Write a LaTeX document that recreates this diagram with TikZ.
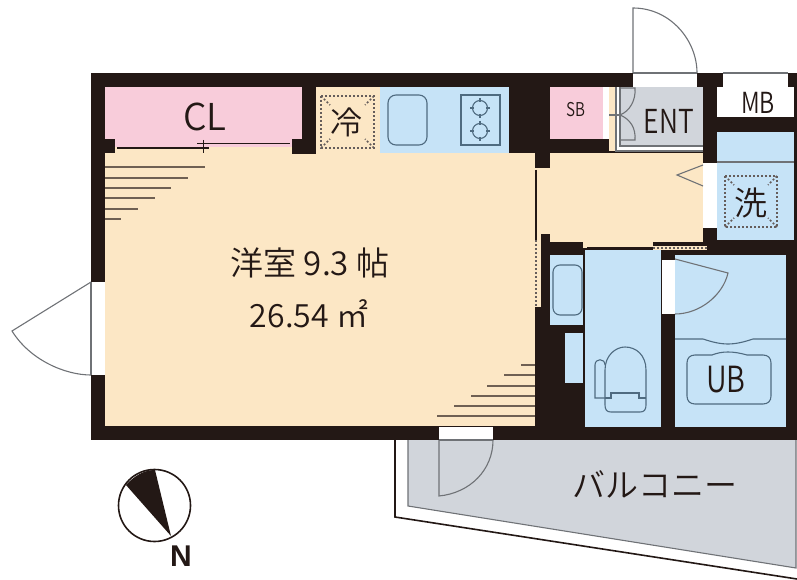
\documentclass[tikz,border=0pt]{standalone}
\usepackage{fontspec}
\setmainfont{Noto Sans CJK JP}[UprightFont={* DemiLight}]
\newfontfamily\narrowfont[FakeStretch=0.8]{Noto Sans CJK JP DemiLight}
\newfontfamily\northfont{Liberation Sans}
\definecolor{wallblack}{HTML}{231815}
\definecolor{roomcream}{HTML}{FCE7C5}
\definecolor{closetpink}{HTML}{F8CCDA}
\definecolor{wetblue}{HTML}{C6E3F7}
\definecolor{floorgrey}{HTML}{D1D5DB}
\definecolor{doorgrey}{HTML}{6F7276}
\definecolor{fixline}{HTML}{4F6B80}
\begin{document}
\begin{tikzpicture}[
x=1pt,y=-1pt,
cream/.style={fill=roomcream},
pink/.style={fill=closetpink},
wet/.style={fill=wetblue},
opening/.style={fill=white},
door/.style={draw=doorgrey,line width=1.1pt},
fixture/.style={draw=fixline,line width=1.1pt},
stairline/.style={draw=wallblack!65!roomcream,line width=1.2pt},
frontline/.style={draw=wallblack,line width=1.6pt},
dots/.style={draw=wallblack!70,line width=1.5pt,dash pattern=on 2pt off 2pt},
label/.style={inner sep=0pt,text=wallblack}
]
\useasboundingbox (0,0) rectangle (797,580);
\fill[wallblack] (91,73) rectangle (797,440);
\fill[floorgrey] (408,440) -- (408,506) -- (796,568) -- (796,440) -- cycle;
\draw[door] (408,440) -- (408,506) -- (796,568) -- (796,440);
\draw[frontline] (395,440) -- (395,517) -- (797,579);
\fill[cream] (105,153) rectangle (535,426);
\fill[cream] (105,147) rectangle (316,153);
\fill[cream] (535,153) rectangle (541,307);
\fill[cream] (541,153) rectangle (703,242);
\fill[cream] (583,242) rectangle (653,248);
\fill[cream] (316,87) rectangle (380,153);
\fill[cream] (609,87) rectangle (620,151);
\fill[pink] (105,87) rectangle (302,147);
\fill[wallblack] (105,139) rectangle (115,153);
\fill[wallblack] (292,139) rectangle (316,154);
\fill[wallblack] (535,153) rectangle (550,168);
\fill[wallblack] (541,234) rectangle (550,242);
\fill[wet] (380,87) rectangle (509,153);
\fill[pink] (550,87) rectangle (603,139);
\fill[opening] (603,87) rectangle (609,139);
\fill[opening] (616,87) rectangle (703,151);
\fill[floorgrey] (620,87) rectangle (703,146);
\draw[door] (616,87) -- (616,151) -- (703,151);
\draw[door] (620,87) -- (620,146) -- (703,146);
\fill[opening] (717,87) rectangle (794,117);
\fill[wet] (717,132) rectangle (794,240);
\draw[door] (717,162) -- (794,162);
\fill[wet] (550,255) rectangle (583,325);
\fill[wet] (565,333) rectangle (583,383);
\fill[wet] (585,250) rectangle (661,427);
\fill[wet] (675,255) rectangle (786,427);
\fill[opening] (662,260) rectangle (675,314);
\fill[opening] (703,163) rectangle (717,228);
\fill[opening] (633,73) rectangle (697,87);
\fill[opening] (723,73) rectangle (788,87);
\fill[opening] (91,282) rectangle (105,375);
\fill[opening] (439,427) rectangle (493,440);
\draw[door] (633,73) -- (697,73);
\draw[door] (723,73) -- (788,73);
\draw[door] (439,440) -- (493,440);
\draw[door] (91,282) -- (91,375);
\draw[door] (633,73) -- (633,8) .. controls (670,8) and (697,40) .. (697,73);
\draw[door] (91,282) -- (12,331) .. controls (30,360) and (65,375) .. (91,375);
\draw[door] (439,440) -- (439,496) .. controls (470,493) and (493,470) .. (493,440);
\draw[door] (620,88) -- (635,88) .. controls (636,100) and (630,111) .. (620,115);
\draw[door] (620,140) -- (635,140) .. controls (636,128) and (630,119) .. (620,115);
\draw[door] (609,115) -- (620,115);
\draw[door] (703,165) -- (677,175) -- (703,186);
\draw[door] (675,259) -- (728,273) .. controls (723,295) and (700,314) .. (675,314);
\draw[wallblack,line width=1.8pt] (117,148) -- (209,148);
\draw[wallblack,line width=1.8pt] (197,143.5) -- (290,143.5);
\draw[wallblack,line width=1pt] (203,140) -- (203,153);
\draw[wallblack,line width=1.8pt] (536,170) -- (536,240);
\draw[wallblack,line width=1.8pt] (587,247.5) -- (653,247.5);
\fill[roomcream] (534,240) rectangle (538.5,307);
\draw[dots] (536,240) -- (536,307);
\fill[roomcream] (653,246) rectangle (707,250);
\draw[dots] (653,248) -- (707,248);
\foreach \rowy/\rowx in {167/205,178/188,188/171,198/155,209/138,219/121}
	\draw[stairline] (105,\rowy) -- (\rowx,\rowy);
\foreach \rowy/\rowx in {365/521,375/504,386/487,396/471,406/454,416/437}
	\draw[stairline] (535,\rowy) -- (\rowx,\rowy);
\draw[dots] (321,96) rectangle (374,148);
\draw[dots] (321,96) -- (330,105) (374,96) -- (365,105) (321,148) -- (330,139) (374,148) -- (365,139);
\draw[dots] (725,176) rectangle (777,227);
\draw[dots] (725,176) -- (734,185) (777,176) -- (768,185) (725,227) -- (734,218) (777,227) -- (768,218);
\draw[fixture,rounded corners=8pt] (388,95) rectangle (427,145);
\draw[fixture] (461,95) rectangle (500,145);
\foreach \burnery in {108,131} {
	\draw[fixture] (480,\burnery) circle (7.5);
	\draw[fixture] (480,\burnery-10) -- (480,\burnery-6) (480,\burnery+6) -- (480,\burnery+10) (470,\burnery) -- (474,\burnery) (486,\burnery) -- (490,\burnery);
}
\draw[fixture,rounded corners=7pt] (553,265) rectangle (582,315);
\draw[fixture] (605,370) .. controls (605,355) and (616,347) .. (625,347) .. controls (636,347) and (646,355) .. (646,370) -- (646,405) .. controls (646,410) and (644,412) .. (640,412) -- (611,412) .. controls (607,412) and (605,410) .. (605,405) -- cycle;
\draw[fixture] (605,398) -- (595,398) -- (595,365) .. controls (595,358) and (605,358) .. (605,365);
\draw[fixture] (605,398) -- (611,398) -- (611,393) -- (639,393) -- (639,398) -- (646,398);
\draw[fixture] (675,339) -- (703,339) .. controls (712,342) and (720,344) .. (728,344) .. controls (736,344) and (744,342) .. (753,339) -- (786,339);
\draw[fixture] (695,355) -- (712,355) .. controls (717,353) and (722,352) .. (728,352) .. controls (734,352) and (740,353) .. (747,355) -- (763,355) .. controls (768,355) and (771,358) .. (771,363) -- (771,396) .. controls (771,401) and (768,404) .. (763,404) -- (695,404) .. controls (690,404) and (687,401) .. (687,396) -- (687,363) .. controls (687,358) and (690,355) .. (695,355) -- cycle;
\draw[wallblack,line width=1.6pt] (154.5,505.5) circle (36);
\fill[wallblack] (126,485) .. controls (134,476) and (144,470) .. (155,470) -- (171,536) -- cycle;
\node[label,font=\fontsize{37}{37}\selectfont] (closet) at (205,117) {CL};
\node[label,font=\fontsize{32}{32}\selectfont] (fridge) at (346,122) {冷};
\node[label,font=\narrowfont\fontsize{19}{19}\selectfont] (shoebox) at (576,110) {SB};
\node[label,font=\narrowfont\fontsize{33}{33}\selectfont] (entrance) at (669,121) {ENT};
\node[label,font=\narrowfont\fontsize{29}{29}\selectfont] (meter) at (758,103) {MB};
\node[label,font=\fontsize{33}{33}\selectfont] (washer) at (751,203) {洗};
\node[label,font=\fontsize{33}{33}\selectfont] (roomname) at (310,263) {洋室 9.3 帖};
\node[label,font=\fontsize{32}{32}\selectfont] (roomarea) at (309,314) {26.54 ㎡};
\node[label,font=\narrowfont\fontsize{36}{36}\selectfont] (bath) at (726,380) {UB};
\node[label,font=\fontsize{33}{33}\selectfont] (balcony) at (655,484) {バルコニー};
\node[label,font=\northfont\bfseries\fontsize{30}{30}\selectfont] (north) at (181,556) {N};
\end{tikzpicture}
\end{document}
